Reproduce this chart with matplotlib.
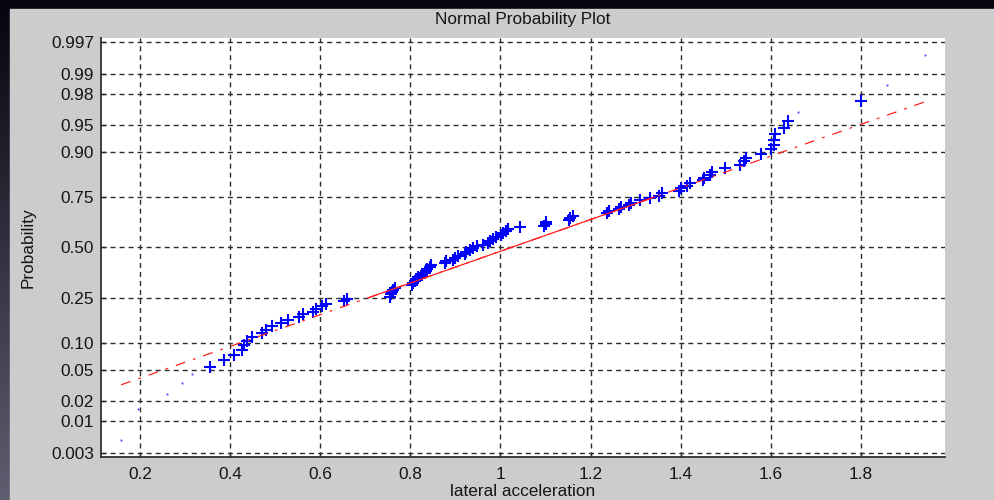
import numpy as np
import matplotlib
matplotlib.use('Agg')
import matplotlib.pyplot as plt
from matplotlib.patches import Rectangle
from statistics import NormalDist

plt.rcParams['font.family'] = ['Liberation Sans', 'DejaVu Sans']

# ---- data (sorted lateral acceleration samples) ----
lateral_acceleration = [
    0.157, 0.195, 0.260, 0.293, 0.315, 0.354, 0.385, 0.408, 0.425, 0.430,
    0.436, 0.448, 0.470, 0.480, 0.492, 0.512, 0.528, 0.552, 0.562, 0.584,
    0.590, 0.604, 0.612, 0.652, 0.658, 0.755, 0.757, 0.758, 0.761, 0.765,
    0.803, 0.806, 0.810, 0.813, 0.817, 0.825, 0.832, 0.834, 0.837, 0.843,
    0.846, 0.876, 0.880, 0.895, 0.898, 0.905, 0.921, 0.924, 0.932, 0.939,
    0.947, 0.961, 0.972, 0.976, 0.984, 0.990, 1.002, 1.006, 1.013, 1.017,
    1.043, 1.097, 1.100, 1.102, 1.152, 1.155, 1.160, 1.237, 1.240, 1.263,
    1.267, 1.285, 1.289, 1.311, 1.333, 1.352, 1.359, 1.396, 1.400, 1.415,
    1.422, 1.450, 1.452, 1.465, 1.470, 1.498, 1.532, 1.541, 1.546, 1.578,
    1.600, 1.607, 1.607, 1.610, 1.631, 1.639, 1.660, 1.800, 1.859, 1.943,
]
tick_probs = [0.003, 0.01, 0.02, 0.05, 0.10, 0.25, 0.50, 0.75, 0.90, 0.95, 0.98, 0.99, 0.997]
tick_labels = ['0.003', '0.01', '0.02', '0.05', '0.10', '0.25', '0.50',
               '0.75', '0.90', '0.95', '0.98', '0.99', '0.997']
x_ticks = [0.2, 0.4, 0.6, 0.8, 1.0, 1.2, 1.4, 1.6, 1.8]
x_tick_labels = ['0.2', '0.4', '0.6', '0.8', '1', '1.2', '1.4', '1.6', '1.8']
# samples whose '+' markers are almost lost in the original rendering
faint_points = [0, 1, 2, 3, 4, 96, 98, 99]

nd = NormalDist()
x = np.sort(np.asarray(lateral_acceleration, dtype=float))
n = len(x)
eprob = (np.arange(1, n + 1) - 0.5) / n
z = np.array([nd.inv_cdf(p) for p in eprob])

# MATLAB-style percentile
pct_pos = 100 * (np.arange(1, n + 1) - 0.5) / n
q1x, q3x = np.interp([25, 75], pct_pos, x)
q1y, q3y = np.interp([25, 75], pct_pos, z)
slope = (q3y - q1y) / (q3x - q1x)
cx, cy = (q1x + q3x) / 2, (q1y + q3y) / 2
minx, maxx = x.min(), x.max()
mx = [minx, maxx]
my = [cy - slope * (cx - minx), cy + slope * (maxx - cx)]
rng = maxx - minx

# ---- figure ----
W, H = 994, 500
fig = plt.figure(figsize=(W / 100, H / 100), dpi=100)

bg = fig.add_axes([0, 0, 1, 1])
t = np.linspace(0, 1, 256)[:, None]
top = np.array([0.02, 0.02, 0.06])
bot = np.array([0.37, 0.37, 0.44])
grad = top + (bot - top) * t[..., None] * np.ones((1, 2, 1))
bg.imshow(grad, aspect='auto', extent=[0, 1, 0, 1], origin='upper')
bg.add_patch(Rectangle((10 / W, 0), (W - 10) / W, (H - 9) / H, color='#cccccc'))
bg.set_xlim(0, 1)
bg.set_ylim(0, 1)
bg.axis('off')

ax_l, ax_r, ax_t, ax_b = 101, 945, 37.7, 457
ax = fig.add_axes([ax_l / W, 1 - ax_b / H, (ax_r - ax_l) / W, (ax_b - ax_t) / H])
ax.set_facecolor('white')

mask = np.ones(n, dtype=bool)
mask[faint_points] = False
ax.plot(x[mask], z[mask], linestyle='none', marker='+', color='#0000ff',
        markersize=9, markeredgewidth=1.5, zorder=3)
ax.plot(x[~mask], z[~mask], linestyle='none', marker='s', color='#3a3aff',
        markersize=1.3, markeredgewidth=0, zorder=3)

dl, = ax.plot(mx, my, color='#ff2020', linewidth=0.9, zorder=4)
dl.set_dashes([8, 6.5, 2.2, 6.5])
ax.plot([q1x, q3x], [q1y, q3y], color='#ff2020', linewidth=0.9, zorder=4)

ax.set_xlim(minx - 0.025 * rng, maxx + 0.025 * rng)
ylim = nd.inv_cdf(0.25 / n)
ax.set_ylim(ylim, -ylim)

ax.set_yticks([nd.inv_cdf(p) for p in tick_probs])
ax.set_yticklabels(tick_labels)
ax.set_xticks(x_ticks)
ax.set_xticklabels(x_tick_labels)

for s in ['top', 'right']:
    ax.spines[s].set_visible(False)
for s in ['left', 'bottom']:
    ax.spines[s].set_color('#303030')
    ax.spines[s].set_linewidth(1.3)

ax.tick_params(direction='in', length=3.5, width=1.0, color='#303030',
               labelsize=12.4, labelcolor='#151515', pad=5)
ax.tick_params(axis='x', pad=7)

ax.grid(True, color='#2b2b2b', linewidth=1.0, linestyle=(0, (3.6, 2.9)))
ax.set_axisbelow(True)

ax.set_xlabel('lateral acceleration', fontsize=12.4, color='#151515')
ax.xaxis.set_label_coords(0.5, -(491.7 - ax_b) / (ax_b - ax_t))
ax.xaxis.label.set_va('center')
ax.set_ylabel('Probability', fontsize=12.4, color='#151515')
ax.yaxis.set_label_coords(-(ax_l - 28) / (ax_r - ax_l), 0.5)
ax.yaxis.label.set_va('center')
ax.text(0.5, 1 + (ax_t - 19.5) / (ax_b - ax_t), 'Normal Probability Plot',
        transform=ax.transAxes, ha='center', va='center', fontsize=12.4,
        color='#151515')

fig.savefig('out.png', dpi=100)
